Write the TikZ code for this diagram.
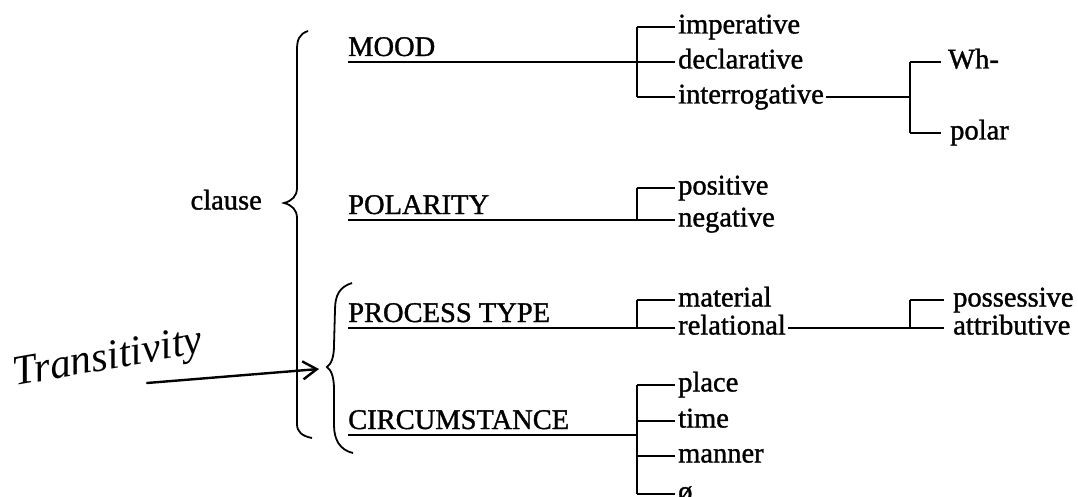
\documentclass[tikz,border=0pt]{standalone}
\usepackage{fontspec}
\setmainfont{Liberation Serif}
\newfontfamily\scanfont[FakeBold=1.2]{Liberation Serif}
\usetikzlibrary{arrows.meta}
\begin{document}
\begin{tikzpicture}[x=1pt,y=-1pt,
 ln/.style={line width=1.8pt},
 cat/.style={anchor=base west,inner sep=0pt,font=\scanfont\fontsize{28.5}{30}\selectfont},
 item/.style={anchor=west,inner sep=0pt,text height=20pt,text depth=7pt,font=\scanfont\fontsize{28.5}{30}\selectfont},
 tick/.style={ln,shorten >=3pt},
 hand/.style={line width=2.4pt,line cap=round}]
\useasboundingbox (0,0) rectangle (1078,497);

% clause and outer brace
\node[item,anchor=east] (clause) at (262,203) {clause};
\draw[ln] (308,31) .. controls (299,34) and (297,40) .. (297,50) -- (297,188)
  .. controls (297,196) and (292,201) .. (284,203) coordinate (otip)
  .. controls (292,205) and (297,210) .. (297,218) -- (297,424)
  .. controls (297,432) and (302,436) .. (312,438);

% inner brace
\draw[ln] (352,283) .. controls (339,287) and (335,296) .. (335,310) -- (334,345)
  .. controls (334,358) and (331,364) .. (327,367) coordinate (itip)
  .. controls (331,370) and (334,376) .. (334,390) -- (334,425)
  .. controls (334,440) and (340,450) .. (353,453);

% categories
\node[cat] (mood) at (348,56) {MOOD};
\node[cat] (pol) at (348,214) {POLARITY};
\node[cat] (proc) at (348,322) {PROCESS TYPE};
\node[cat] (circ) at (348,429) {CIRCUMSTANCE};

% MOOD system
\coordinate (mb1) at (637,27);
\coordinate (mb2) at (637,62);
\coordinate (mb3) at (637,97);
\draw[ln] (mb1) -- (mb3);
\draw[ln] ([yshift=-6pt]mood.base west) -- (mb2);
\node[item] (imp) at (678,27) {imperative};
\node[item] (dec) at (678,62) {declarative};
\node[item] (int) at (678,97) {interrogative};
\draw[tick] (mb1) -- (imp.west);
\draw[tick] (mb2) -- (dec.west);
\draw[tick] (mb3) -- (int.west);

\coordinate (wb1) at (910,62);
\coordinate (wb2) at (910,97);
\coordinate (wb3) at (910,133);
\draw[ln] (wb1) -- (wb3);
\draw[ln,shorten <=2pt] (int.east) -- (wb2);
\node[item] (wh) at (948,62) {Wh-};
\node[item] (polar) at (950,133) {polar};
\draw[tick,shorten >=7pt] (wb1) -- (wh.west);
\draw[tick,shorten >=9pt] (wb3) -- (polar.west);

% POLARITY system
\coordinate (pb1) at (637,188);
\coordinate (pb2) at (637,220);
\draw[ln] (pb1) -- (pb2);
\draw[ln] ([yshift=-6pt]pol.base west) -- (pb2);
\node[item] (pos) at (678,188) {positive};
\node[item] (neg) at (678,220) {negative};
\draw[tick] (pb1) -- (pos.west);
\draw[tick] (pb2) -- (neg.west);

% PROCESS TYPE system
\coordinate (tb1) at (637,300);
\coordinate (tb2) at (637,328);
\draw[ln] (tb1) -- (tb2);
\draw[ln] ([yshift=-6pt]proc.base west) -- (tb2);
\node[item] (mat) at (678,300) {material};
\node[item] (rel) at (678,328) {relational};
\draw[tick] (tb1) -- (mat.west);
\draw[tick] (tb2) -- (rel.west);

\coordinate (rb1) at (910,300);
\coordinate (rb2) at (910,328);
\draw[ln] (rb1) -- (rb2);
\draw[ln,shorten <=2pt] (rel.east) -- (rb2);
\node[item] (poss) at (953,300) {possessive};
\node[item] (attr) at (953,328) {attributive};
\draw[tick,shorten >=9pt] (rb1) -- (poss.west);
\draw[tick,shorten >=9pt] (rb2) -- (attr.west);

% CIRCUMSTANCE system
\coordinate (cb1) at (637,385);
\coordinate (cb2) at (637,421);
\coordinate (cb3) at (637,456);
\coordinate (cb4) at (637,494);
\coordinate (cbm) at (637,435);
\draw[ln] (cb1) -- (cb4);
\draw[ln] ([yshift=-6pt]circ.base west) -- (cbm);
\node[item] (place) at (678,385) {place};
\node[item] (time) at (678,421) {time};
\node[item] (manner) at (678,456) {manner};
\node[item] (zero) at (678,494) {ø};
\draw[tick] (cb1) -- (place.west);
\draw[tick] (cb2) -- (time.west);
\draw[tick] (cb3) -- (manner.west);
\draw[tick] (cb4) -- (zero.west);

% handwritten annotation
\node[font=\fontsize{42}{44}\selectfont\itshape,rotate=10,inner sep=0pt] (trans) at (108,360) {Transitivity};
\coordinate (as) at (147,383);
\coordinate (ae) at (319,369);
\draw[hand,-{Straight Barb[length=14pt,width=18pt,line width=2.4pt]}] (as) -- (ae);
\end{tikzpicture}
\end{document}
